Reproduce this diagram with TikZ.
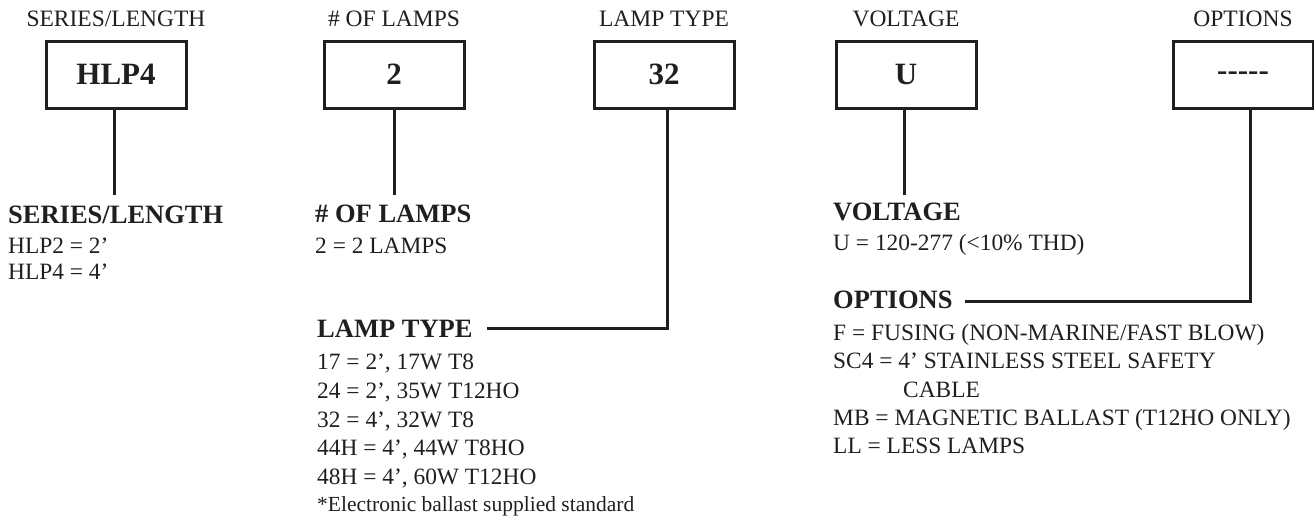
\documentclass[tikz,border=0pt]{standalone}
\usepackage{fontspec}
\setmainfont{Liberation Serif}
\begin{document}
\begin{tikzpicture}[x=1pt,y=-1pt]
\tikzset{
 hdr/.style={anchor=base, inner sep=0pt, font=\fontsize{23.5}{28}\selectfont, text=black!88},
 box/.style={draw=black!88, line width=3pt, minimum width=140pt, minimum height=67pt, inner sep=0pt, font=\fontsize{31}{36}\selectfont\bfseries, text=black!88},
 head/.style={anchor=base west, inner sep=0pt, font=\fontsize{26.5}{30}\selectfont\bfseries, text=black!88},
 body/.style={anchor=base west, inner sep=0pt, font=\fontsize{23.4}{28}\selectfont, text=black!88},
 note/.style={anchor=base west, inner sep=0pt, font=\fontsize{21.5}{26}\selectfont, text=black!88},
 conn/.style={draw=black!88, line width=3pt},
}
\useasboundingbox (0,0) rectangle (1314,520);
% headers
\node[hdr] (h1) at (116,26) {SERIES/LENGTH};
\node[hdr] (h2) at (394,26) {\# OF LAMPS};
\node[hdr] (h3) at (664,26) {LAMP TYPE};
\node[hdr] (h4) at (906,26) {VOLTAGE};
\node[hdr] (h5) at (1243,26) {OPTIONS};
% boxes
\node[box] (b1) at (116,74.7) {HLP4};
\node[box] (b2) at (394,74.7) {2};
\node[box] (b3) at (664,74.7) {32};
\node[box] (b4) at (906,74.7) {U};
\node[box] (b5) at (1243,74.7) {\vphantom{HLP4}\raisebox{4.4pt}{-\kern0pt-\kern0pt-\kern0pt-\kern0pt-}};
% end points
\coordinate (e1) at (114,195);
\coordinate (e2) at (394,195);
\coordinate (e4) at (904,195);
\coordinate (e3) at (487,328);
\coordinate (e5) at (965,301);
\draw[conn] ([xshift=-2pt]b1.south) -- (e1);
\draw[conn] (b2.south) -- (e2);
\draw[conn] ([xshift=-2pt]b4.south) -- (e4);
\draw[conn] ([xshift=3pt]b3.south) |- (e3);
\draw[conn] ([xshift=7pt]b5.south) |- (e5);
% series
\node[head] (sh) at (8,223) {SERIES/LENGTH};
\node[body] (s1) at (8,253) {HLP2 = 2’};
\node[body] (s2) at (8,279) {HLP4 = 4’};
% lamps
\node[head] (nh) at (315,222) {\# OF LAMPS};
\node[body] (n1) at (315,253) {2 = 2 LAMPS};
% voltage
\node[head] (vh) at (833,220) {VOLTAGE};
\node[body] (v1) at (833,250) {U = 120-277 (<10\% THD)};
% lamp type
\node[head] (th) at (317,337) {LAMP TYPE};
\node[body] (t1) at (317,369) {17 = 2’, 17W T8};
\node[body] (t2) at (317,398) {24 = 2’, 35W T12HO};
\node[body] (t3) at (317,427) {32 = 4’, 32W T8};
\node[body] (t4) at (317,455) {44H = 4’, 44W T8HO};
\node[body] (t5) at (317,484) {48H = 4’, 60W T12HO};
\node[note] (t6) at (317,511) {*Electronic ballast supplied standard};
% options
\node[head] (oh) at (833,308) {OPTIONS};
\node[body] (o1) at (833,340) {F = FUSING (NON-MARINE/FAST BLOW)};
\node[body] (o2) at (833,368) {SC4 = 4’ STAINLESS STEEL SAFETY};
\node[body] (o3) at (903,397) {CABLE};
\node[body] (o4) at (833,425) {MB = MAGNETIC BALLAST (T12HO ONLY)};
\node[body] (o5) at (833,453) {LL = LESS LAMPS};
\end{tikzpicture}
\end{document}
